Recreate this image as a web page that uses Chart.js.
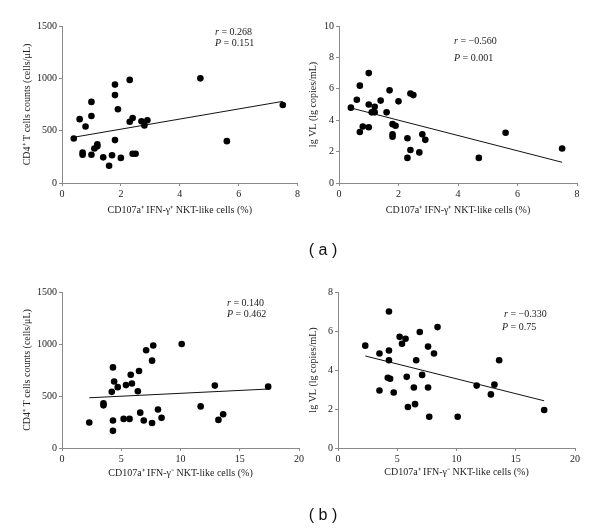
<!DOCTYPE html>
<html><head><meta charset="utf-8">
<script src="https://cdn.jsdelivr.net/npm/chart.js@4/dist/chart.umd.min.js"></script>
<style>
html,body{margin:0;padding:0;background:#fff}
body{width:600px;height:531px;position:relative;overflow:hidden}
canvas{position:absolute;display:block}
.lab{position:absolute;font-family:"Liberation Sans",Arial,sans-serif;font-size:16px;color:#111;transform:translate(-50%,-50%);white-space:pre}
</style></head>
<body>
<canvas id="c1" width="310" height="225" style="left:0;top:0"></canvas>
<canvas id="c2" width="300" height="225" style="left:300px;top:0"></canvas>
<canvas id="c3" width="310" height="225" style="left:0;top:265px"></canvas>
<canvas id="c4" width="300" height="225" style="left:300px;top:265px"></canvas>
<div class="lab" style="left:323px;top:250px">( a )</div>
<div class="lab" style="left:323px;top:515px">( b )</div>
<script>
// ---- data ----
const aX_CD4 = [0.4,0.6,0.8,0.7,0.7,1.0,1.0,1.0,1.1,1.2,1.2,1.4,1.6,1.7,1.8,1.8,1.9,1.8,2.0,2.3,2.3,2.4,2.4,2.5,2.7,2.8,2.9,4.7,5.6,7.5];
const aY_CD4 = [425,610,540,290,270,775,640,270,330,370,350,245,165,265,940,840,705,410,240,985,585,620,280,280,590,550,600,1000,400,745];
const aX_VL = [0.4,0.6,0.7,0.7,0.8,1.0,1.0,1.0,1.1,1.2,1.2,1.4,1.6,1.7,1.8,1.9,1.8,1.8,2.0,2.3,2.3,2.4,2.5,2.4,2.7,2.8,2.9,4.7,5.6,7.5];
const aY_VL = [4.8,5.3,6.2,3.25,3.6,7.0,5.0,3.55,4.5,4.5,4.85,5.25,4.5,5.9,3.75,3.65,3.1,2.95,5.2,2.85,1.6,5.7,5.6,2.1,1.95,3.1,2.75,1.6,3.2,2.2];
const bX_CD4 = [2.3,3.5,3.5,4.3,4.4,4.2,4.3,4.3,4.7,5.2,5.4,5.7,5.8,5.9,6.4,6.5,6.6,6.9,7.1,7.6,7.6,7.7,8.1,8.4,10.1,11.7,12.9,13.2,13.6,17.4];
const bY_CD4 = [245,430,410,775,640,540,265,165,585,280,605,280,705,620,545,740,340,265,940,240,840,985,370,290,1000,400,600,270,325,590];
const bX_VL = [2.3,3.5,3.5,4.3,4.3,4.3,4.2,4.4,4.7,5.2,5.4,5.7,5.8,5.9,6.4,6.5,6.6,6.9,7.1,7.6,7.6,7.7,8.1,8.4,10.1,11.7,12.9,13.2,13.6,17.4];
const bY_VL = [5.25,4.85,2.95,7.0,5.0,4.5,3.6,3.55,2.85,5.7,5.35,5.6,3.65,2.1,3.1,2.25,4.5,5.95,3.75,5.2,3.1,1.6,4.85,6.2,1.6,3.2,2.75,3.25,4.5,1.95];
// fitted trend lines (end points)
const aFitX = [0.4, 7.5];
const aFitY_CD4 = [437, 780];
const aFitY_VL = [4.78, 1.32];
const bFitX = [2.3, 17.4];
const bFitY_CD4 = [483, 567];
const bFitY_VL = [4.72, 2.42];
// axis ranges / ticks
const aXTicks = [0, 2, 4, 6, 8];
const bXTicks = [0, 5, 10, 15, 20];
const cd4Ticks = [0, 500, 1000, 1500];
const vlTicksA = [0, 2, 4, 6, 8, 10];
const vlTicksB = [0, 2, 4, 6, 8];
// texts
const titleCD4 = "CD4\u207A T cells counts (cells/\u03BCL)";
const titleVL = "lg VL (lg copies/mL)";
const titleXA = "CD107a\u207A IFN-\u03B3\u207A NKT-like cells (%)";
const titleXB = "CD107a\u207A IFN-\u03B3\u207B NKT-like cells (%)";
const statsA_CD4 = ["0.268", "0.151"];
const statsA_VL = ["\u22120.560", "0.001"];
const statsB_CD4 = ["0.140", "0.462"];
const statsB_VL = ["\u22120.330", "0.75"];

const SERIF = '"Liberation Serif","Times New Roman",serif';
const AXIS = '#8a8a8a';
const TXT = '#222';

function pts(xs, ys){ return xs.map((x,i)=>({x:x, y:ys[i]})); }

const statsPlugin = {
  id: 'stats',
  afterDraw(chart, args, opts){
    const ctx = chart.ctx;
    ctx.save();
    ctx.fillStyle = TXT;
    ctx.textBaseline = 'middle';
    ctx.textAlign = 'left';
    const lines = [["r", " = " + opts.r, opts.rx, opts.ry], ["P", " = " + opts.p, opts.px, opts.py]];
    for (const [v, rest, x, y] of lines) {
      ctx.font = 'italic 10px ' + SERIF;
      ctx.fillText(v, x, y);
      const w = ctx.measureText(v).width;
      ctx.font = '10px ' + SERIF;
      ctx.fillText(rest, x + w, y);
    }
    ctx.restore();
  }
};

function makeChart(id, xs, ys, fx, fy, xTicks, yTicks, xTitle, yTitle, stats, geo){
  const xMax = xTicks[xTicks.length-1], xStep = xTicks[1]-xTicks[0];
  const yMax = yTicks[yTicks.length-1], yStep = yTicks[1]-yTicks[0];
  new Chart(document.getElementById(id), {
    type: 'scatter',
    data: { datasets: [
      { data: pts(xs, ys), backgroundColor: '#000', borderWidth: 0, pointRadius: 3.3, pointHoverRadius: 3.3 },
      { type: 'line', data: pts(fx, fy), borderColor: '#111', borderWidth: 1, pointRadius: 0, fill: false, tension: 0 }
    ]},
    options: {
      responsive: false, animation: false, devicePixelRatio: 1,
      layout: { padding: { top: geo.top, right: geo.right, left: 0, bottom: 0 } },
      plugins: { legend: {display:false}, tooltip: {enabled:false},
        stats: stats },
      scales: {
        x: { type: 'linear', min: 0, max: xMax,
          afterFit: s => { s.height = geo.xh; },
          ticks: { stepSize: xStep, color: TXT, font: {family: SERIF, size: 10}, padding: 2, maxRotation: 0, callback: v => String(v) },
          grid: { drawOnChartArea: false, drawTicks: true, tickLength: 3, color: AXIS, lineWidth: 1 },
          border: { display: true, color: AXIS, width: 1 },
          title: { display: true, text: xTitle, color: TXT, font: {family: SERIF, size: 10}, padding: {top:0, bottom: geo.xtp} } },
        y: { type: 'linear', min: 0, max: yMax,
          afterFit: s => { s.width = geo.yw; },
          ticks: { stepSize: yStep, color: TXT, font: {family: SERIF, size: 10}, padding: 2, callback: v => String(v) },
          grid: { drawOnChartArea: false, drawTicks: true, tickLength: 3, color: AXIS, lineWidth: 1 },
          border: { display: true, color: AXIS, width: 1 },
          title: { display: true, text: yTitle, color: TXT, font: {family: SERIF, size: 10}, padding: {top: geo.ytp, bottom: 0} } }
      }
    },
    plugins: [statsPlugin]
  });
}

makeChart('c1', aX_CD4, aY_CD4, aFitX, aFitY_CD4, aXTicks, cd4Ticks, titleXA, titleCD4,
  {r: statsA_CD4[0], p: statsA_CD4[1], rx: 215, ry: 32, px: 215, py: 43},
  {top: 26, right: 12.5, xh: 42, yw: 62, xtp: 9, ytp: 21});
makeChart('c2', aX_VL, aY_VL, aFitX, aFitY_VL, aXTicks, vlTicksA, titleXA, titleVL,
  {r: statsA_VL[0], p: statsA_VL[1], rx: 154, ry: 41, px: 154, py: 58},
  {top: 26, right: 23, xh: 42, yw: 39, xtp: 9, ytp: 7});
makeChart('c3', bX_CD4, bY_CD4, bFitX, bFitY_CD4, bXTicks, cd4Ticks, titleXB, titleCD4,
  {r: statsB_CD4[0], p: statsB_CD4[1], rx: 227, ry: 38, px: 227, py: 49},
  {top: 27, right: 11, xh: 42, yw: 62, xtp: 11, ytp: 21});
makeChart('c4', bX_VL, bY_VL, bFitX, bFitY_VL, bXTicks, vlTicksB, titleXB, titleVL,
  {r: statsB_VL[0], p: statsB_VL[1], rx: 204, ry: 49, px: 202, py: 62},
  {top: 27, right: 25, xh: 42, yw: 38, xtp: 12, ytp: 7});
</script>
</body></html>
